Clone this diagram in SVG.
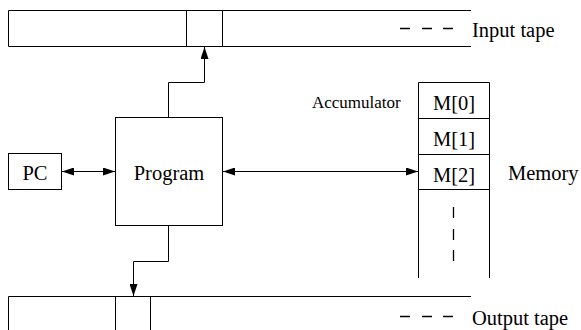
<svg xmlns="http://www.w3.org/2000/svg" width="581" height="330" viewBox="0 0 581 330">
  <style>
    .ln { fill: none; stroke: #000; stroke-width: 1; }
    .box { fill: #fff; stroke: #000; stroke-width: 1; }
    .dash { fill: none; stroke: #000; stroke-width: 1.3; }
    text { font-family: "Liberation Serif", "Times New Roman", serif; fill: #000; }
    .lbl { font-size: 20.5px; }
    .small { font-size: 17px; }
  </style>
  <defs>
    <marker id="ah" viewBox="0 0 12 8" refX="12" refY="4" markerWidth="12" markerHeight="8" markerUnits="userSpaceOnUse" orient="auto-start-reverse">
      <path d="M0,0 L12,4 L0,8 z" fill="#000"/>
    </marker>
  </defs>

  <!-- input tape -->
  <g id="input-tape">
    <path class="ln" d="M471,10.5 H8.5 V46.5 H471"/>
    <path class="ln" d="M186.5,10.5 V46.5 M222.5,10.5 V46.5"/>
    <path class="dash" d="M400,28.5 h10 M422,28.5 h10 M443,28.5 h10"/>
    <text class="lbl" x="472" y="37">Input tape</text>
  </g>

  <!-- output tape -->
  <g id="output-tape">
    <path class="ln" d="M471,296.5 H8.5 V330"/>
    <path class="ln" d="M115.5,296.5 V330 M150.5,296.5 V330"/>
    <path class="dash" d="M400,316.5 h10 M422,316.5 h10 M443,316.5 h10"/>
    <text class="lbl" x="472" y="325">Output tape</text>
  </g>

  <!-- program counter -->
  <g id="pc">
    <rect class="box" x="8.5" y="153.5" width="53" height="36"/>
    <text class="lbl" x="35" y="180" text-anchor="middle">PC</text>
  </g>

  <!-- program -->
  <g id="program">
    <rect class="box" x="115.5" y="117.5" width="107" height="108"/>
    <text class="lbl" x="169" y="180" text-anchor="middle">Program</text>
  </g>

  <!-- memory -->
  <g id="memory">
    <path class="ln" d="M418.5,278 V82.5 H489.5 V278"/>
    <path class="ln" d="M418.5,118.5 H489.5 M418.5,154.5 H489.5 M418.5,189.5 H489.5"/>
    <text class="lbl" x="454" y="110" text-anchor="middle">M[0]</text>
    <text class="lbl" x="454" y="146" text-anchor="middle">M[1]</text>
    <text class="lbl" x="454" y="182" text-anchor="middle">M[2]</text>
    <path class="dash" d="M453.5,207 v11 M453.5,229 v11 M453.5,250 v11"/>
    <text class="small" x="312" y="108">Accumulator</text>
    <text class="lbl" x="508" y="180">Memory</text>
  </g>

  <!-- connectors -->
  <g id="connectors">
    <path class="ln" d="M168.5,117 V82.5 H204.5 V47" marker-end="url(#ah)"/>
    <path class="ln" d="M168.5,226 V261.5 H133.5 V296" marker-end="url(#ah)"/>
    <path class="ln" d="M62,171.5 H115" marker-start="url(#ah)" marker-end="url(#ah)"/>
    <path class="ln" d="M223,171.5 H418" marker-start="url(#ah)" marker-end="url(#ah)"/>
  </g>
</svg>
